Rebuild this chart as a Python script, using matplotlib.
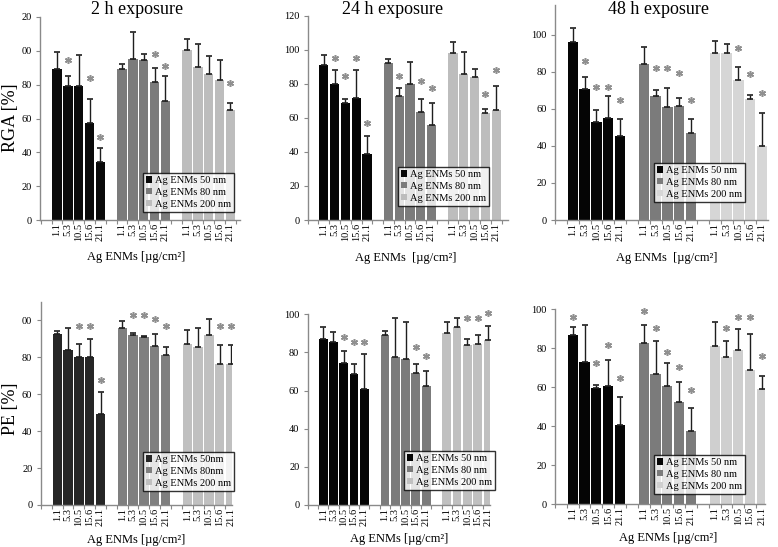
import numpy as np
import matplotlib
matplotlib.use("Agg")
from matplotlib import pyplot as plt

plt.rcParams['font.family'] = ['Liberation Serif', 'DejaVu Serif']

nan = np.nan
doses = ["1.1", "5.3", "10.5", "15.6", "21.1"]
sizes = ["50 nm", "80 nm", "200 nm"]

# RGA, 2 h exposure: bar heights, top of error bar, height of the * mark
rga2_mean = [[89, 79.5, 79, 57.5, 34], [89, 95.3, 94.5, 81.5, 70.5], [100.4, 90.5, 86.6, 82.7, 65]]
rga2_top = [[99.5, 85.4, 97.5, 71.5, 42.5], [92, 111, 98.4, 89.6, 85], [107, 104, 97, 94.5, 69.3]]
rga2_star = [[nan, 94.5, nan, 84, 49], [nan, nan, nan, 98.4, 91], [nan, nan, nan, nan, 81]]

# RGA, 24 h exposure
rga24_mean = [[91, 80, 68.5, 71.5, 39], [92, 72.8, 79.7, 63.2, 56], [97.9, 85.7, 83.8, 62.6, 64.6]]
rga24_top = [[96.7, 88, 71, 88, 49.5], [94.7, 77.3, 93, 71, 69], [104.7, 98.9, 88.5, 65.2, 79]]
rga24_star = [[nan, 95, 84.5, 95, 57], [nan, 84.6, nan, 81.6, 77.7], [nan, nan, nan, 74, 88]]

# RGA, 48 h exposure
rga48_mean = [[96, 70.6, 52.9, 55, 45.2], [83.9, 67, 61, 61.3, 47], [90, 90, 75.6, 65.2, 40]]
rga48_top = [[103.6, 77.4, 59.1, 66.7, 54.7], [93.2, 70.3, 71.3, 65.6, 54.5], [96.8, 95, 82.4, 67.4, 57.9]]
rga48_star = [[nan, 85.7, 71.7, 71.7, 64.9], [nan, 82, 82, 79.2, 64.9], [nan, nan, 92.6, 78.9, 68.5]]

# PE, 2 h exposure
pe2_mean = [[92.5, 84, 79.9, 80, 49.4], [95.7, 91.9, 90.7, 86.2, 81.1], [87, 85.3, 92, 76.1, 76.5]]
pe2_top = [[94.3, 95.7, 87, 89.8, 61], [99.6, 92.8, 91.4, 92.5, 85.5], [94.6, 95.5, 100.5, 86.5, 86.5]]
pe2_star = [[nan, nan, 97, 97, 67.9], [nan, 102.7, 102.7, 100.5, 97], [nan, nan, nan, 97, 97]]

# PE, 24 h exposure
pe24_mean = [[86.9, 85.3, 74.3, 68.5, 60.8], [89.2, 77.4, 76.6, 69, 62.2], [90, 93.2, 83.9, 84.4, 86.5]]
pe24_top = [[93.5, 90.6, 80.8, 73.8, 79.4], [91.3, 97.9, 96.2, 73.8, 70.5], [95.8, 97.9, 87, 89.2, 94]]
pe24_star = [[nan, nan, 88.3, 85.7, 85.7], [nan, nan, nan, 83, 78], [nan, nan, 98.3, 98.3, 100.5]]

# PE, 48 h exposure
pe48_mean = [[86.8, 73.2, 59.5, 60.5, 40.7], [82.9, 67, 60.5, 52.3, 37.8], [81.4, 75.7, 79.1, 68.9, 59]]
pe48_top = [[91.1, 92, 61.2, 74.2, 55], [92, 83.8, 72.5, 62.6, 49.6], [93.7, 83.9, 89.9, 87.5, 65.6]]
pe48_star = [[95.9, nan, 72.3, 81.7, 64.6], [99.1, 90.3, 78.3, 70.4, 58.5], [nan, 90.3, 95.9, 95.9, 76.2]]

fig = plt.figure(figsize=(7.78, 5.47), dpi=100)
W, H = 778.0, 547.0


def px_axes(x0, x1, ytop, ybot):
    return fig.add_axes([x0 / W, 1 - ybot / H, (x1 - x0) / W, (ybot - ytop) / H])


panels = [
    dict(box=(40, 240, 17, 220), xlim=(-1.57, 16.89), ylim=120, yt=[0, 20, 40, 60, 80, 100, 120],
         ytl=["0", "20", "40", "60", "80", "00", "20"],
         colors=["#0a0a0a", "#7b7b7b", "#bdbdbd"],
         data=(rga2_mean, rga2_top, rga2_star), leg=(143, 173), ylabel=("RGA [%]", 118),
         title="2 h exposure", tx=137, xl="Ag ENMs [µg/cm²]", xlx=136, xly=257,
         labels=["Ag ENMs " + s for s in sizes]),
    dict(box=(307.7, 508, 15.7, 220), xlim=(-1.38, 17.1), ylim=120, yt=[0, 20, 40, 60, 80, 100, 120],
         ytl=None, colors=["#050505", "#7b7b7b", "#bdbdbd"],
         data=(rga24_mean, rga24_top, rga24_star), leg=(398, 167), ylabel=None,
         title="24 h exposure", tx=393, xl="Ag ENMs  [µg/cm²]", xlx=406, xly=258,
         labels=["Ag ENMs " + s for s in sizes]),
    dict(box=(555, 768, 5, 220), xlim=(-1.34, 16.5), ylim=116, yt=[0, 20, 40, 60, 80, 100],
         ytl=None, colors=["#050505", "#7b7b7b", "#d6d6d6"],
         data=(rga48_mean, rga48_top, rga48_star), leg=(654, 163), ylabel=None,
         title="48 h exposure", tx=658, xl="Ag ENMs  [µg/cm²]", xlx=667, xly=258,
         labels=["Ag ENMs " + s for s in sizes]),
    dict(box=(40.7, 231.7, 301.7, 505), xlim=(-1.52, 16.1), ylim=110, yt=[0, 20, 40, 60, 80, 100],
         ytl=["0", "20", "40", "60", "80", "00"],
         colors=["#262626", "#7f7f7f", "#c0c0c0"],
         data=(pe2_mean, pe2_top, pe2_star), leg=(143, 452), ylabel=("PE [%]", 409),
         title=None, tx=None, xl="Ag ENMs [µg/cm²]", xlx=136, xly=540,
         labels=["Ag ENMs 50nm", "Ag ENMs 80nm", "Ag ENMs 200 nm"]),
    dict(box=(307.7, 490, 314.3, 505), xlim=(-1.43, 16.2), ylim=100, yt=[0, 20, 40, 60, 80, 100],
         ytl=None, colors=["#050505", "#7b7b7b", "#c0c0c0"],
         data=(pe24_mean, pe24_top, pe24_star), leg=(404, 451), ylabel=None,
         title=None, tx=None, xl="Ag ENMs [µg/cm²]", xlx=399, xly=539,
         labels=["Ag ENMs " + s for s in sizes]),
    dict(box=(555, 765, 309.3, 504.3), xlim=(-1.34, 16.26), ylim=100, yt=[0, 20, 40, 60, 80, 100],
         ytl=None, colors=["#050505", "#7b7b7b", "#cfcfcf"],
         data=(pe48_mean, pe48_top, pe48_star), leg=(654, 455), ylabel=None,
         title=None, tx=None, xl="Ag ENMs [µg/cm²]", xlx=668, xly=538,
         labels=["Ag ENMs " + s for s in sizes]),
]

for p in panels:
    x0, x1, ytop, ybot = p["box"]
    ax = px_axes(x0, x1, ytop, ybot)
    means, tops, stars = p["data"]
    xs_all = []
    handles = []
    for g in range(3):
        xs = np.arange(5) + g * 6
        xs_all.extend(xs)
        m = np.array(means[g])
        t = np.array(tops[g])
        b = ax.bar(xs, m, width=0.86, color=p["colors"][g], edgecolor="none", zorder=2)
        handles.append(b)
        ax.errorbar(xs, m, yerr=[np.zeros(5), t - m], fmt="none", ecolor="#1e1e1e",
                    elinewidth=1.0, capsize=2.2, capthick=1.2, zorder=3)
        ax.plot(xs, stars[g], linestyle="none", marker=(6, 2, 0), markersize=5,
                color="#909090", markeredgewidth=1.1, clip_on=False, zorder=4)

    ax.set_xlim(*p["xlim"])
    ax.set_ylim(0, p["ylim"])
    ax.set_xticks(xs_all)
    ax.set_xticklabels(doses * 3, rotation=90, fontsize=7.5)
    ax.set_xticks(np.arange(-1.5, p["xlim"][1], 1.0), minor=True)
    ax.tick_params(axis="x", which="major", length=0, pad=2)
    ax.tick_params(axis="x", which="minor", length=3, color="#888888", width=0.8)
    ax.set_yticks(p["yt"])
    if p["ytl"] is not None:
        ax.set_yticklabels(p["ytl"])
    ax.tick_params(axis="y", labelsize=7.5, length=3, color="#888888", width=0.8, pad=3)
    for s in ["top", "right"]:
        ax.spines[s].set_visible(False)
    for s in ["left", "bottom"]:
        ax.spines[s].set_color("#8a8a8a")
        ax.spines[s].set_linewidth(1.0)

    if p["ylabel"]:
        text, ly_px = p["ylabel"]
        fig.text(10 / W, 1 - ly_px / H, text, rotation=90, ha="center", va="center", fontsize=13)

    if p["title"]:
        fig.text(p["tx"] / W, 1 - 9 / H, p["title"], ha="center", va="center", fontsize=13)
    fig.text(p["xlx"] / W, 1 - p["xly"] / H, p["xl"], ha="center", va="center", fontsize=9)

    lx, ly = p["leg"]
    leg = ax.legend(handles, p["labels"], loc="upper left", bbox_to_anchor=(lx / W, 1 - ly / H),
                    bbox_transform=fig.transFigure, borderaxespad=0, fontsize=7.5,
                    frameon=True, fancybox=False, handlelength=0.55, handleheight=0.55,
                    handletextpad=0.3, borderpad=0.3, labelspacing=0.28)
    leg.get_frame().set_edgecolor("black")
    leg.get_frame().set_linewidth(1.0)
    leg.set_zorder(5)

fig.savefig("out.png", dpi=100)
